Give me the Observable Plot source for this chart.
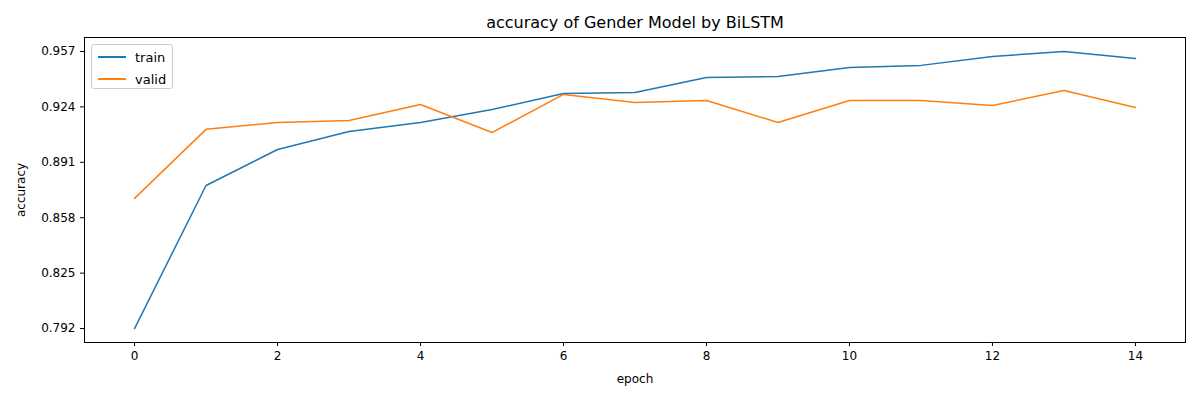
<!DOCTYPE html>
<html><head>
<script src="https://cdn.jsdelivr.net/npm/d3@7"></script>
<script src="https://cdn.jsdelivr.net/npm/@observablehq/plot@0.6"></script>
<style>
body{margin:0;font-family:"DejaVu Sans",sans-serif;background:#fff}
#wrap{position:relative;width:1200px;height:400px}
#title{height:37px;line-height:46px;text-align:center;font-size:16px;padding-left:70px;box-sizing:border-box}
#legend{position:absolute;left:91px;top:44px;width:82px;height:45px;border:1px solid #ccc;border-radius:3px;background:#fff;font-size:13px;box-sizing:border-box}
#legend div{display:flex;align-items:center;height:20px;margin-top:2px}
#legend span{display:inline-block;width:28px;height:2px;margin:0 9px 0 6px}
</style></head><body>
<div id="wrap"><div id="title">accuracy of Gender Model by BiLSTM</div><div id="chart"></div>
<div id="legend"><div><span style="background:#1f77b4"></span>train</div><div><span style="background:#ff7f0e"></span>valid</div></div></div>
<script>
const epochs = d3.range(15)
const train = [0.792,0.8772,0.8986,0.9093,0.9147,0.9224,0.932,0.9326,0.9415,0.9421,0.9475,0.9487,0.954,0.957,0.9528]
const valid = [0.8695,0.9106,0.9147,0.9159,0.9254,0.9087,0.9314,0.9266,0.9278,0.9147,0.9278,0.9278,0.9248,0.9337,0.9236]
const yTicks = [0.792,0.825,0.858,0.891,0.924,0.957]

const rows = epochs.flatMap(e => [
  {epoch: e, acc: train[e], s: 'train'},
  {epoch: e, acc: valid[e], s: 'valid'}
])

const chart = Plot.plot({
  width: 1200, height: 363,
  marginTop: 0, marginBottom: 58, marginLeft: 84, marginRight: 15,
  style: {fontSize: '12px', fontFamily: 'DejaVu Sans'},
  x: {domain: [-0.7, 14.7], ticks: [0,2,4,6,8,10,12,14], label: 'epoch', labelAnchor: 'center', labelArrow: 'none', labelOffset: 40, tickSize: 4},
  y: {domain: [0.7837, 0.9653], ticks: yTicks, tickFormat: d3.format('.3f'), label: 'accuracy', labelAnchor: 'center', labelArrow: 'none', labelOffset: 68, tickSize: 4},
  color: {domain: ['train','valid'], range: ['#1f77b4','#ff7f0e']},
  marks: [
    Plot.line(rows, {x: 'epoch', y: 'acc', stroke: 's', strokeWidth: 1.5}),
    Plot.frame({stroke: '#000'})
  ]
})
d3.select('#chart').append(() => chart)
</script></body></html>
